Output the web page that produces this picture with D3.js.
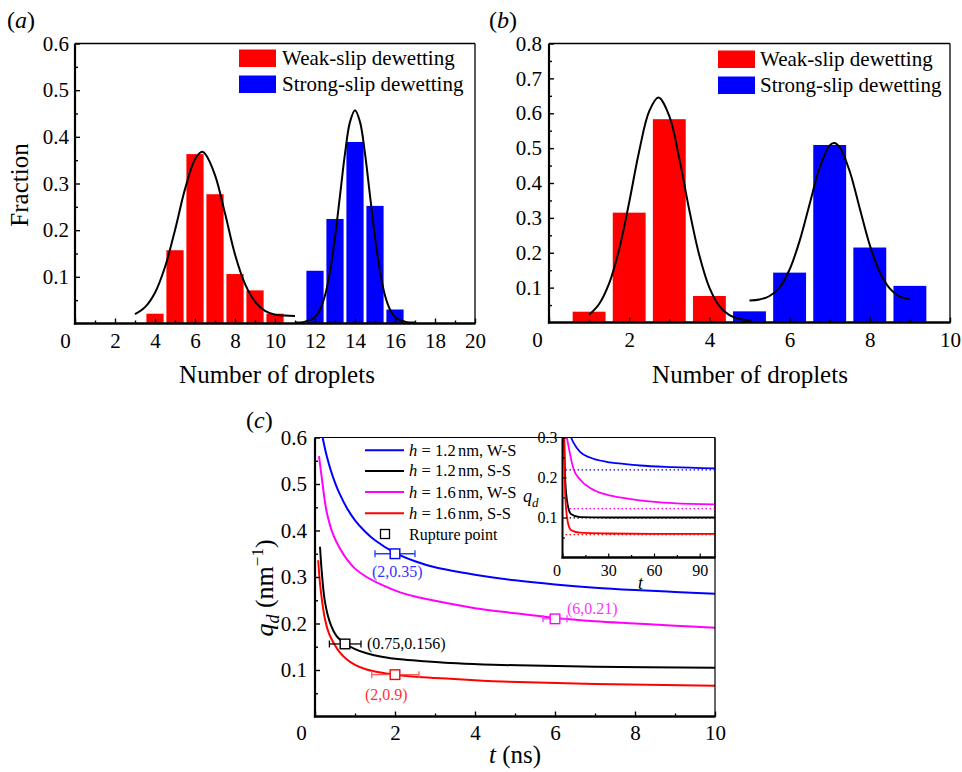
<!DOCTYPE html>
<html><head><meta charset="utf-8">
<script src="https://cdn.jsdelivr.net/npm/d3@7"></script>
<style>body{margin:0;background:#fff;} svg text{font-family:"Liberation Serif","Times New Roman",serif;}</style>
</head><body>
<svg id="chart" width="962" height="772"></svg>
<script>
// ---------------- DATA ----------------
// Panel (a)
const aWeakX = [4, 5, 6, 7, 8, 9, 10];
const aWeakY = [0.021, 0.157, 0.363, 0.277, 0.106, 0.071, 0.021];
const aStrongX = [12, 13, 14, 15, 16];
const aStrongY = [0.113, 0.224, 0.389, 0.252, 0.030];
const aFitWeakX = [3, 3.5, 4, 4.5, 5, 5.5, 6, 6.35, 6.5, 7, 7.5, 8, 8.5, 9, 9.5, 10, 10.5, 11];
const aFitWeakY = [0.020, 0.035, 0.066, 0.121, 0.200, 0.288, 0.352, 0.368, 0.364, 0.318, 0.236, 0.148, 0.085, 0.047, 0.027, 0.019, 0.017, 0.016];
const aFitStrongX = [11, 11.5, 12, 12.25, 12.5, 12.75, 13, 13.25, 13.5, 13.75, 14, 14.25, 14.5, 14.75, 15, 15.25, 15.5, 15.75, 16, 16.5, 17];
const aFitStrongY = [0.002, 0.004, 0.014, 0.030, 0.060, 0.111, 0.185, 0.274, 0.364, 0.432, 0.457, 0.432, 0.364, 0.274, 0.185, 0.111, 0.060, 0.030, 0.014, 0.004, 0.002];
const aXTicks = [0, 2, 4, 6, 8, 10, 12, 14, 16, 18, 20];
const aYTicks = [0.1, 0.2, 0.3, 0.4, 0.5, 0.6];

// Panel (b)
const bWeakX = [1, 2, 3, 4];
const bWeakY = [0.031, 0.315, 0.583, 0.076];
const bStrongX = [5, 6, 7, 8, 9];
const bStrongY = [0.032, 0.143, 0.509, 0.215, 0.105];
const bFitWeakX = [1, 1.25, 1.5, 1.75, 2, 2.25, 2.5, 2.73, 3, 3.25, 3.5, 3.75, 4, 4.25, 4.5, 4.75, 5];
const bFitWeakY = [0.022, 0.053, 0.112, 0.210, 0.345, 0.492, 0.606, 0.645, 0.592, 0.470, 0.322, 0.192, 0.100, 0.047, 0.021, 0.010, 0.006];
const bFitStrongX = [5, 5.25, 5.5, 5.75, 6, 6.25, 6.5, 6.75, 7, 7.11, 7.25, 7.5, 7.75, 8, 8.25, 8.5, 8.75, 9];
const bFitStrongY = [0.063, 0.066, 0.076, 0.101, 0.152, 0.234, 0.340, 0.444, 0.508, 0.515, 0.503, 0.433, 0.327, 0.222, 0.144, 0.097, 0.074, 0.067];
const bXTicks = [0, 2, 4, 6, 8, 10];
const bYTicks = [0.1, 0.2, 0.3, 0.4, 0.5, 0.6, 0.7, 0.8];

const legendNames = ["Weak-slip dewetting", "Strong-slip dewetting"];
const barColors = ["#ff0000", "#0000ff"];

// Panel (c)
const seriesNames = ["h = 1.2 nm, W-S", "h = 1.2 nm, S-S", "h = 1.6 nm, W-S", "h = 1.6 nm, S-S"];
const seriesColors = ["#0000ff", "#000000", "#ff00ff", "#ff0000"];
const cBlueT = [0.19, 0.25, 0.3, 0.4, 0.5, 0.6, 0.8, 1.0, 1.25, 1.5, 2, 2.5, 3, 4, 5, 6, 7, 8, 9, 10];
const cBlueQ = [0.600, 0.576, 0.558, 0.528, 0.503, 0.482, 0.448, 0.422, 0.398, 0.379, 0.352, 0.334, 0.321, 0.305, 0.293, 0.284, 0.277, 0.272, 0.268, 0.264];
const cBlackT = [0.125, 0.17, 0.25, 0.375, 0.54, 0.75, 1.0, 1.29, 1.7, 2.13, 2.7, 3.38, 4.2, 5.08, 7, 10];
const cBlackQ = [0.365, 0.310, 0.246, 0.202, 0.173, 0.157, 0.145, 0.136, 0.128, 0.123, 0.119, 0.115, 0.112, 0.110, 0.107, 0.105];
const cMagT = [0.1, 0.17, 0.29, 0.46, 0.62, 0.79, 1.0, 1.29, 1.7, 2.13, 2.5, 3, 4, 5, 6, 7, 8, 9, 10];
const cMagQ = [0.560, 0.513, 0.441, 0.390, 0.362, 0.339, 0.318, 0.300, 0.282, 0.267, 0.258, 0.249, 0.233, 0.222, 0.212, 0.205, 0.200, 0.195, 0.191];
const cRedT = [0.08, 0.14, 0.25, 0.35, 0.46, 0.6, 0.79, 1.0, 1.29, 1.6, 2, 2.6, 3.38, 4.2, 5.08, 7, 10];
const cRedQ = [0.336, 0.274, 0.209, 0.178, 0.159, 0.140, 0.123, 0.111, 0.101, 0.095, 0.090, 0.085, 0.081, 0.077, 0.074, 0.070, 0.066];
const ruptT = [2, 0.75, 6, 2];
const ruptQ = [0.35, 0.156, 0.21, 0.09];
const ruptLo = [1.5, 0.36, 5.7, 1.42];
const ruptHi = [2.5, 1.15, 6.3, 2.6];
const ruptLabels = ["(2,0.35)", "(0.75,0.156)", "(6,0.21)", "(2,0.9)"];
const cXTicks = [0, 2, 4, 6, 8, 10];
const cYTicks = [0.1, 0.2, 0.3, 0.4, 0.5, 0.6];

// Inset
const iBlueT = [5.6, 7.2, 11.5, 18, 29, 40, 50.7, 72, 100];
const iBlueQ = [0.300, 0.287, 0.264, 0.250, 0.239, 0.234, 0.230, 0.226, 0.223];
const iBlackT = [1.1, 1.8, 3.4, 5.5, 11.5, 30, 60, 100];
const iBlackQ = [0.300, 0.195, 0.132, 0.109, 0.101, 0.100, 0.100, 0.100];
const iMagT = [2.9, 3.9, 7.2, 11.5, 18.1, 29, 39.8, 50.7, 72.4, 100];
const iMagQ = [0.300, 0.279, 0.222, 0.195, 0.174, 0.157, 0.149, 0.143, 0.136, 0.133];
const iRedT = [1.1, 1.8, 3.4, 5.5, 11.5, 30, 60, 100];
const iRedQ = [0.300, 0.153, 0.090, 0.069, 0.062, 0.060, 0.059, 0.059];
const iLimits = [0.219, 0.099, 0.122, 0.057];
const iXTicks = [0, 30, 60, 90];
const iYTicks = [0.1, 0.2, 0.3];

// ---------------- DRAWING ----------------
const svg = d3.select("#chart");
const FONT = "Liberation Serif, Times New Roman, serif";

function axes(g, x, y, o) {
  const [x0, x1] = x.range(), [y0, y1] = y.range();
  const gb = g.append("g").attr("transform", `translate(0,${y0})`)
    .call(d3.axisBottom(x).tickValues(o.xt).tickSize(-o.ts).tickPadding(o.xpad)
      .tickFormat(d => d3.format("")(d)));
  const gbm = g.append("g").attr("transform", `translate(0,${y0})`)
    .call(d3.axisBottom(x).tickValues(o.xm).tickSize(-o.ts * 0.6).tickFormat(""));
  const gl = g.append("g").attr("transform", `translate(${x0},0)`)
    .call(d3.axisLeft(y).tickValues(o.yt).tickSize(-o.ts).tickPadding(o.ypad)
      .tickFormat(d3.format(".1f")));
  const glm = g.append("g").attr("transform", `translate(${x0},0)`)
    .call(d3.axisLeft(y).tickValues(o.ym).tickSize(-o.ts * 0.6).tickFormat(""));
  [gb, gbm, gl, glm].forEach(s => {
    s.select(".domain").remove();
    s.attr("font-family", FONT).attr("font-size", o.fs);
    s.selectAll("line").attr("stroke", "#000").attr("stroke-width", o.tw);
    s.selectAll("text").attr("fill", "#000");
  });
  gb.selectAll(".tick text").filter(d => d === 0).attr("dx", -o.zshift);
  g.append("line").attr("x1", x0).attr("x2", x1).attr("y1", y1).attr("y2", y1)
    .attr("stroke", "#000").attr("stroke-width", o.thin);
  g.append("line").attr("x1", x1).attr("x2", x1).attr("y1", y0).attr("y2", y1)
    .attr("stroke", "#000").attr("stroke-width", o.thin);
  g.append("line").attr("x1", x0).attr("x2", x0).attr("y1", y0 + o.thick / 2).attr("y2", y1)
    .attr("stroke", "#000").attr("stroke-width", o.thick);
  g.append("line").attr("x1", x0 - o.thick / 2).attr("x2", x1 + 0.5).attr("y1", y0).attr("y2", y0)
    .attr("stroke", "#000").attr("stroke-width", o.thick + 0.4);
}

function range(a, b, s) { const r = []; for (let v = a; v <= b + 1e-9; v += s) r.push(+v.toFixed(4)); return r; }

function histPanel(g, x, y, wX, wY, sX, sY, fwX, fwY, fsX, fsY, bw) {
  const bars = g.append("g");
  [[wX, wY, 0], [sX, sY, 1]].forEach(([xs, ys, k]) => {
    bars.selectAll(null).data(xs.map((v, i) => [v, ys[i]])).join("rect")
      .attr("x", d => x(d[0] - bw / 2)).attr("width", x(bw) - x(0))
      .attr("y", d => y(d[1])).attr("height", d => y(0) - y(d[1]))
      .attr("fill", barColors[k]);
  });
  const line = d3.line().x(d => x(d[0])).y(d => y(d[1])).curve(d3.curveCatmullRom.alpha(0.5));
  [[fwX, fwY], [fsX, fsY]].forEach(([xs, ys]) => {
    g.append("path").datum(xs.map((v, i) => [v, ys[i]])).attr("d", line)
      .attr("fill", "none").attr("stroke", "#000").attr("stroke-width", 2);
  });
}

function histLegend(g, rx, ry, tx) {
  legendNames.forEach((n, i) => {
    g.append("rect").attr("x", rx).attr("y", ry + i * 26).attr("width", 37).attr("height", 17.5)
      .attr("fill", barColors[i]);
    g.append("text").attr("x", tx).attr("y", ry + i * 26 + 15.5).attr("font-size", 21)
      .attr("font-family", FONT).text(n);
  });
}

// ----- Panel (a)
const aX = d3.scaleLinear([0, 20], [75, 475]);
const aY = d3.scaleLinear([0, 0.6], [323.5, 43.5]);
const ga = svg.append("g");
histPanel(ga, aX, aY, aWeakX, aWeakY, aStrongX, aStrongY, aFitWeakX, aFitWeakY, aFitStrongX, aFitStrongY, 0.86);
axes(ga, aX, aY, { xt: aXTicks, xm: range(1, 19, 2), yt: aYTicks, ym: range(0.05, 0.55, 0.1),
  ts: 5, xpad: 10, ypad: 6, fs: 21, tw: 1.4, thin: 1.3, thick: 2.2, zshift: 10 });
histLegend(ga, 239, 49.5, 282);
ga.append("text").attr("transform", "translate(28,185) rotate(-90)").attr("text-anchor", "middle")
  .attr("font-size", 25).attr("font-family", FONT).text("Fraction");
ga.append("text").attr("x", 277).attr("y", 383).attr("text-anchor", "middle")
  .attr("font-size", 25).attr("font-family", FONT).text("Number of droplets");
const la = ga.append("text").attr("x", 7).attr("y", 28).attr("font-size", 24).attr("font-family", FONT);
la.append("tspan").text("("); la.append("tspan").attr("font-style", "italic").text("a"); la.append("tspan").text(")");

// ----- Panel (b)
const bX = d3.scaleLinear([0, 10], [549, 950]);
const bY = d3.scaleLinear([0, 0.8], [322.5, 43.5]);
const gbp = svg.append("g");
histPanel(gbp, bX, bY, bWeakX, bWeakY, bStrongX, bStrongY, bFitWeakX, bFitWeakY, bFitStrongX, bFitStrongY, 0.82);
axes(gbp, bX, bY, { xt: bXTicks, xm: range(1, 9, 2), yt: bYTicks, ym: range(0.05, 0.75, 0.1),
  ts: 5, xpad: 10, ypad: 7, fs: 21, tw: 1.4, thin: 1.3, thick: 2.2, zshift: 12 });
histLegend(gbp, 718, 50.5, 760);
gbp.append("text").attr("x", 750).attr("y", 383).attr("text-anchor", "middle")
  .attr("font-size", 25).attr("font-family", FONT).text("Number of droplets");
const lb = gbp.append("text").attr("x", 489).attr("y", 28).attr("font-size", 24).attr("font-family", FONT);
lb.append("tspan").text("("); lb.append("tspan").attr("font-style", "italic").text("b"); lb.append("tspan").text(")");

// ----- Panel (c)
const cX = d3.scaleLinear([0, 10], [315, 715]);
const cY = d3.scaleLinear([0, 0.6], [716.5, 437.5]);
const gc = svg.append("g");
svg.append("defs").append("clipPath").attr("id", "clipc").append("rect")
  .attr("x", 315).attr("y", 437.5).attr("width", 400).attr("height", 279);
const cLine = d3.line().x(d => cX(d[0])).y(d => cY(d[1])).curve(d3.curveCatmullRom.alpha(0.5));
const cSeries = [[cBlueT, cBlueQ], [cBlackT, cBlackQ], [cMagT, cMagQ], [cRedT, cRedQ]];
const curves = gc.append("g").attr("clip-path", "url(#clipc)");
cSeries.forEach(([ts, qs], i) => {
  curves.append("path").datum(ts.map((t, j) => [t, qs[j]])).attr("d", cLine)
    .attr("fill", "none").attr("stroke", seriesColors[i]).attr("stroke-width", 2);
});
const errColors = ["#1f3fff", "#000000", "#ff33ff", "#ff5a5a"];
ruptT.forEach((t, i) => {
  const yy = cY(ruptQ[i]);
  gc.append("line").attr("x1", cX(ruptLo[i])).attr("x2", cX(ruptHi[i])).attr("y1", yy).attr("y2", yy)
    .attr("stroke", errColors[i]).attr("stroke-width", 1.3);
  [ruptLo[i], ruptHi[i]].forEach(v => gc.append("line").attr("x1", cX(v)).attr("x2", cX(v))
    .attr("y1", yy - 3.5).attr("y2", yy + 3.5).attr("stroke", errColors[i]).attr("stroke-width", 1.3));
  gc.append("rect").attr("x", cX(t) - 4.8).attr("y", yy - 4.8).attr("width", 9.6).attr("height", 9.6)
    .attr("fill", "#fff").attr("stroke", seriesColors[i]).attr("stroke-width", 1.4);
});
const labelPos = [[372, 577], [367, 648.5], [567, 613.5], [365, 700]];
const labelColors = ["#3333ff", "#000000", "#ff33ff", "#ff3333"];
ruptLabels.forEach((s, i) => {
  gc.append("text").attr("x", labelPos[i][0]).attr("y", labelPos[i][1]).attr("font-size", 16)
    .attr("font-family", FONT).attr("fill", labelColors[i]).text(s);
});
axes(gc, cX, cY, { xt: cXTicks, xm: range(1, 9, 2), yt: cYTicks, ym: range(0.05, 0.55, 0.1),
  ts: 5, xpad: 8.5, ypad: 8, fs: 21, tw: 1.4, thin: 1.2, thick: 2.2, zshift: 14 });
// legend (c): words placed at the positions they take in the original
const legY = [450.3, 470.9, 492, 513.3];
const wordX = [409, 421.5, 435, 458, 487];
seriesNames.forEach((name, i) => {
  gc.append("line").attr("x1", 365).attr("x2", 404).attr("y1", legY[i]).attr("y2", legY[i])
    .attr("stroke", seriesColors[i]).attr("stroke-width", 2);
  const t = gc.append("text").attr("y", legY[i] + 5.5).attr("font-size", 16.5).attr("font-family", FONT);
  name.split(" ").forEach((w, j) => {
    t.append("tspan").attr("x", wordX[j]).attr("font-style", j === 0 ? "italic" : null).text(w);
  });
});
gc.append("rect").attr("x", 380.5).attr("y", 529.5).attr("width", 9).attr("height", 9)
  .attr("fill", "#fff").attr("stroke", "#000").attr("stroke-width", 1.3);
gc.append("text").attr("x", 409).attr("y", 539.5).attr("font-size", 16).attr("font-family", FONT).text("Rupture point");
const ct = gc.append("text").attr("x", 515).attr("y", 763).attr("text-anchor", "middle")
  .attr("font-size", 25).attr("font-family", FONT);
ct.append("tspan").attr("font-style", "italic").text("t");
ct.append("tspan").text(" (ns)");
const cyt = gc.append("text").attr("transform", "translate(273,588) rotate(-90)").attr("text-anchor", "middle")
  .attr("font-size", 26).attr("font-family", FONT);
cyt.append("tspan").attr("font-style", "italic").text("q");
cyt.append("tspan").attr("font-style", "italic").attr("font-size", 18).attr("dy", 6).text("d");
cyt.append("tspan").attr("dy", -6).text(" (nm");
cyt.append("tspan").attr("font-size", 17).attr("dy", -10).text("−1");
cyt.append("tspan").attr("dy", 10).text(")");
const lc = gc.append("text").attr("x", 246).attr("y", 428).attr("font-size", 24).attr("font-family", FONT);
lc.append("tspan").text("("); lc.append("tspan").attr("font-style", "italic").text("c"); lc.append("tspan").text(")");

// ----- Inset
const iX = d3.scaleLinear([0, 100], [562.5, 715]);
const iY = d3.scaleLinear([0, 0.3], [557.5, 437.5]);
const gi = svg.append("g");
svg.select("defs").append("clipPath").attr("id", "clipi").append("rect")
  .attr("x", 562.5).attr("y", 437.5).attr("width", 152.5).attr("height", 120);
const iLine = d3.line().x(d => iX(d[0])).y(d => iY(d[1])).curve(d3.curveMonotoneX);
const iSeries = [[iBlueT, iBlueQ], [iBlackT, iBlackQ], [iMagT, iMagQ], [iRedT, iRedQ]];
const icur = gi.append("g").attr("clip-path", "url(#clipi)");
iLimits.forEach((q, i) => {
  icur.append("line").attr("x1", iX(2)).attr("x2", iX(100)).attr("y1", iY(q)).attr("y2", iY(q))
    .attr("stroke", seriesColors[i]).attr("stroke-width", 1.2).attr("stroke-dasharray", "1.5,2.5");
});
iSeries.forEach(([ts, qs], i) => {
  icur.append("path").datum(ts.map((t, j) => [t, qs[j]])).attr("d", iLine)
    .attr("fill", "none").attr("stroke", seriesColors[i]).attr("stroke-width", 1.8);
});
axes(gi, iX, iY, { xt: iXTicks, xm: [15, 45, 75], yt: iYTicks, ym: [0.05, 0.15, 0.25],
  ts: 4, xpad: 7, ypad: 5, fs: 16, tw: 1.2, thin: 1.1, thick: 2, zshift: 6 });
gi.append("text").attr("x", 638).attr("y", 589).attr("font-size", 18).attr("font-style", "italic")
  .attr("font-family", FONT).text("t");
const iq = gi.append("text").attr("x", 523).attr("y", 502).attr("font-size", 18).attr("font-family", FONT);
iq.append("tspan").attr("font-style", "italic").text("q");
iq.append("tspan").attr("font-style", "italic").attr("font-size", 13).attr("dy", 5).text("d");
</script>
</body></html>
